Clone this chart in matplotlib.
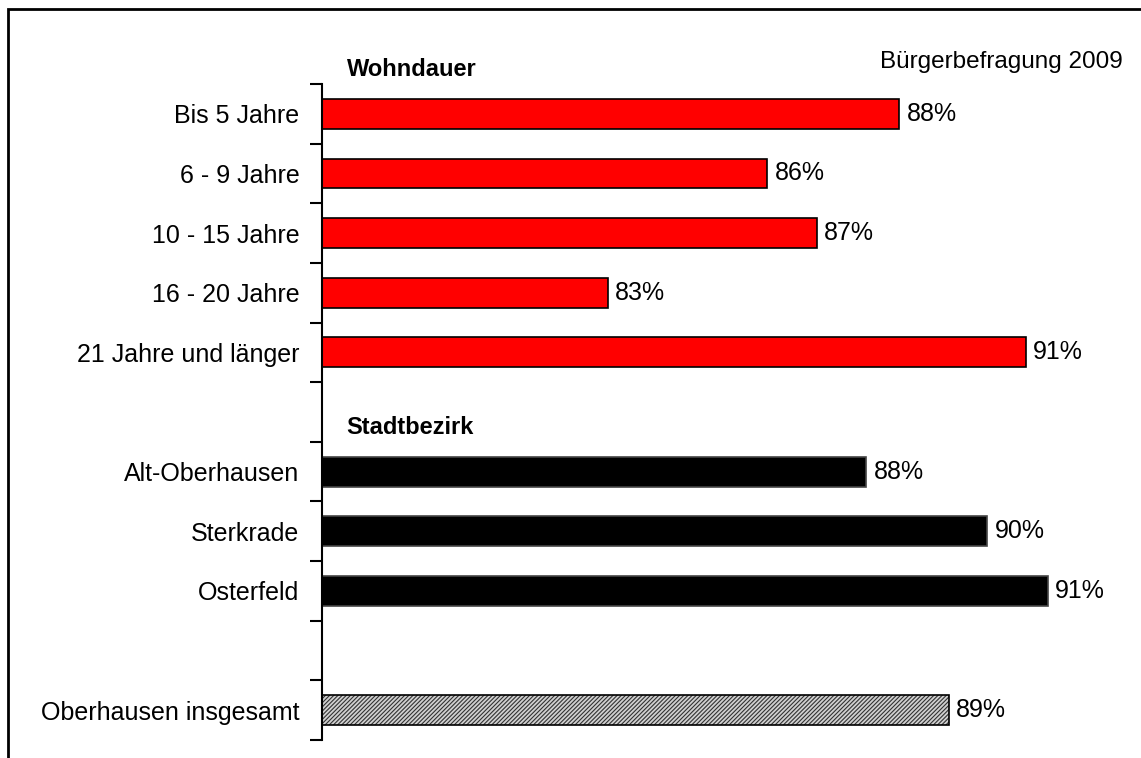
import matplotlib.pyplot as plt
import numpy as np
from matplotlib.patches import Rectangle

plt.rcParams['font.family'] = ['Liberation Sans', 'DejaVu Sans']
plt.rcParams['hatch.linewidth'] = 0.8

# data (bar lengths estimated, labels rounded)
wohndauer_labels = ['Bis 5 Jahre', '6 - 9 Jahre', '10 - 15 Jahre', '16 - 20 Jahre', '21 Jahre und länger']
wohndauer_values = [88.3, 85.9, 86.8, 83.0, 90.6]
bezirk_labels = ['Alt-Oberhausen', 'Sterkrade', 'Osterfeld']
bezirk_values = [87.7, 89.9, 91.0]
gesamt_label = 'Oberhausen insgesamt'
gesamt_value = 89.2

W, H = 1141, 758
fig = plt.figure(figsize=(W / 100, H / 100), dpi=100)

# frame around the chart (only top and left are visible in the original)
fig.patches.append(Rectangle((8 / W, -0.1), 1.2, 1 - 9 / H + 0.1, transform=fig.transFigure,
                             fill=False, edgecolor='black', linewidth=2))

ax_left, ax_right = 321.7, 1120
ax_top, ax_bottom = 84, 740
ax = fig.add_axes([ax_left / W, (H - ax_bottom) / H, (ax_right - ax_left) / W, (ax_bottom - ax_top) / H])

# row positions: 5 wohndauer rows, blank, 3 bezirk rows, blank, total
pos_w = np.arange(len(wohndauer_labels))
pos_b = np.arange(len(bezirk_labels)) + len(wohndauer_labels) + 1
pos_g = pos_b[-1] + 2

ax.barh(pos_w, wohndauer_values, height=0.5, color='#ff0000', edgecolor='black', linewidth=1.2)
ax.barh(pos_b, bezirk_values, height=0.5, color='black', edgecolor='#444444', linewidth=1.2)
ax.barh([pos_g], [gesamt_value], height=0.5, color='#d0d0d0', edgecolor='#333333',
        hatch='////////', linewidth=0)
ax.barh([pos_g], [gesamt_value], height=0.5, fill=False, edgecolor='black', linewidth=1.2)

scale = 55.0  # px per percent
ax.set_xlim(77.8, 77.8 + (ax_right - ax_left) / scale)
ax.set_ylim(pos_g + 0.5, -0.5)

for p, v in zip(list(pos_w) + list(pos_b) + [pos_g], wohndauer_values + bezirk_values + [gesamt_value]):
    ax.annotate(f'{v:.0f}%', xy=(v, p), xytext=(5.5, 0), textcoords='offset points',
                ha='left', va='center', fontsize=18)

ax.set_yticks(list(pos_w) + list(pos_b) + [pos_g])
ax.set_yticklabels(wohndauer_labels + bezirk_labels + [gesamt_label], fontsize=18)
ax.tick_params(axis='y', which='major', length=0, pad=16)
ax.set_yticks(np.arange(-0.5, pos_g + 1), minor=True)
ax.tick_params(axis='y', which='minor', length=9, width=1.5, direction='out')
ax.set_xticks([])

for s in ['top', 'right', 'bottom']:
    ax.spines[s].set_visible(False)
ax.spines['left'].set_linewidth(1.5)

fig.text(347 / W, 1 - 70 / H, 'Wohndauer', fontsize=17, fontweight='bold', va='center', ha='left')
fig.text(346 / W, 1 - 427 / H, 'Stadtbezirk', fontsize=17, fontweight='bold', va='center', ha='left')
fig.text(1123 / W, 1 - 62 / H, 'Bürgerbefragung 2009', fontsize=17.5, va='center', ha='right')

fig.savefig('out.png', dpi=100)
